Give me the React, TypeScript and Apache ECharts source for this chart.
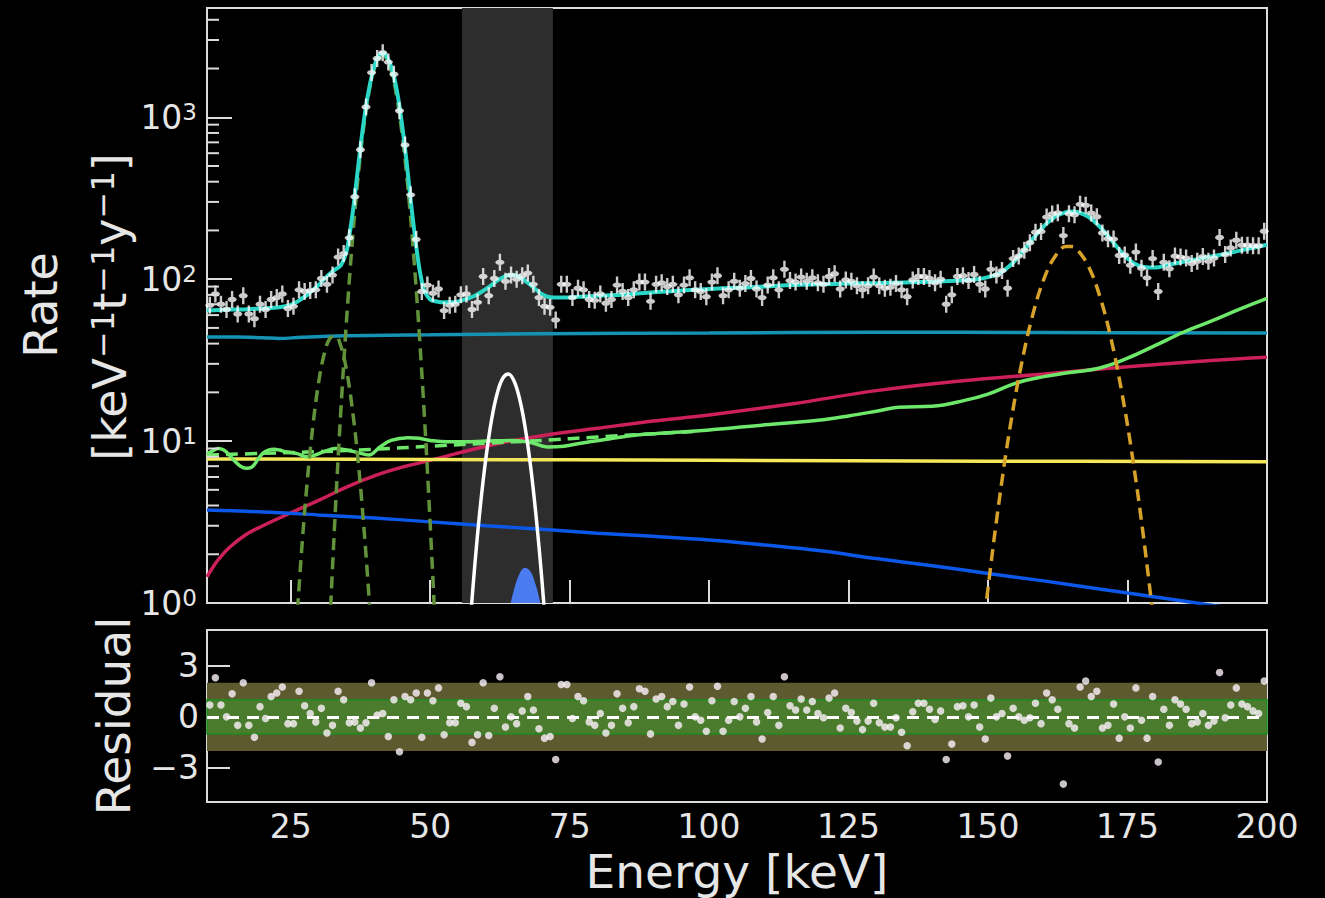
import React, { useEffect, useRef } from 'react';
import * as echarts from 'echarts';

const FONT = "'DejaVu Sans', Verdana, sans-serif";
const TXT = '#e6e6e6';
const FRAME = '#dcdcdc';

// energy bin centres (1 keV bins, 10-200 keV)
const binCentres = Array.from({ length: 190 }, (_, i) => 10.5 + i);

// measured rate per bin [keV^-1 t^-1 y^-1]
const rateData = [
  69, 81, 70, 65, 75, 61, 79, 61, 57, 70,
  65, 75, 77, 81, 66, 68, 86, 84, 85, 86,
  101, 93, 106, 137, 144, 180, 323, 631, 1158, 1887,
  2307, 2505, 2192, 1844, 1098, 675, 332, 176, 84, 92,
  82, 87, 64, 69, 70, 80, 81, 65, 72, 104,
  79, 101, 127, 97, 106, 100, 105, 109, 93, 77,
  68, 67, 56, 93, 93, 77, 88, 86, 75, 74,
  81, 71, 75, 92, 84, 77, 86, 96, 96, 73,
  93, 95, 90, 93, 80, 92, 102, 86, 84, 78,
  96, 105, 79, 86, 97, 88, 94, 101, 87, 77,
  92, 102, 86, 115, 98, 96, 103, 97, 102, 95,
  93, 104, 108, 87, 99, 97, 91, 86, 91, 103,
  91, 88, 89, 94, 86, 78, 99, 104, 104, 101,
  95, 100, 70, 80, 104, 105, 98, 107, 93, 87,
  115, 106, 113, 88, 134, 139, 151, 168, 195, 197,
  242, 253, 257, 186, 254, 250, 290, 286, 256, 243,
  193, 178, 177, 140, 141, 122, 147, 117, 102, 134,
  84, 127, 116, 139, 137, 135, 125, 129, 138, 129,
  135, 181, 142, 156, 174, 162, 162, 161, 161, 198,
];

// normalised residuals per bin
const residuals = [
  0.7, 2.3, 0.7, 0, 1.35, -0.5, 2.0, -0.5, -1.2, 0.6,
  -0.1, 1.2, 1.4, 1.75, -0.4, -0.4, 1.5, 0.65, 0.2, -0.3,
  0.5, -0.95, -0.5, 1.5, 1.0, -0.35, -0.3, -0.65, -0.35, 2.0,
  0.1, 0.2, -1.15, 1.0, -2.05, 1.2, 1.0, 1.4, -1.2, 1.4,
  0.95, 1.7, -1.05, -0.35, -0.35, 0.8, 0.6, -1.5, -1.05, 2.0,
  -1.1, 0.5, 2.35, -0.6, 0, -0.4, 0.35, 1.2, 0.4, -0.7,
  -1.25, -1.15, -2.5, 1.9, 1.9, -0.1, 1.2, 0.95, -0.3, -0.5,
  0.2, -0.95, -0.5, 1.35, 0.5, -0.35, 0.6, 1.65, 1.5, -1.0,
  1.05, 1.2, 0.6, 0.9, -0.5, 0.75, 1.75, 0, -0.2, -0.85,
  0.95, 1.8, -0.85, -0.2, 0.9, 0, 0.5, 1.2, -0.3, -1.3,
  0.25, 1.2, -0.5, 2.35, 0.65, 0.4, 1.05, 0.4, 0.9, 0.2,
  -0.05, 1.1, 1.4, -0.65, 0.5, 0.25, -0.25, -0.75, -0.25, 0.8,
  -0.35, -0.6, -0.6, -0.05, -0.9, -1.7, 0.3, 0.8, 0.8, 0.45,
  -0.15, 0.35, -2.5, -1.6, 0.6, 0.65, 0, 0.7, -0.6, -1.3,
  1.1, 0, 0.2, -2.3, 0.5, 0, -0.2, -0.05, 0.8, -0.4,
  1.4, 1.0, 0.45, -3.95, -0.4, -0.65, 1.75, 2.1, 1.2, 1.5,
  -0.65, -0.5, 0.75, -1.25, 0, -0.65, 1.7, -0.2, -1.25, 1.2,
  -2.65, 0.45, -0.5, 1.0, 0.75, 0.45, -0.4, -0.3, 0.2, -0.5,
  -0.25, 2.6, -0.05, 0.7, 1.7, 0.75, 0.6, 0.35, 0.2, 2.1,
];

// total fit (cyan)
const fitE = [10, 12, 14, 16, 18, 20, 22, 24, 25, 26, 27, 28, 29, 30, 31, 32, 33, 34, 35, 35.5, 36, 36.5, 37, 37.5, 38, 38.5, 39, 39.5, 40, 40.5, 41, 41.5, 42, 42.5, 43, 43.5, 44, 44.5, 45, 45.5, 46, 46.5, 47, 47.5, 48, 48.5, 49, 50, 51, 52, 54, 56, 58, 60, 61, 62, 63, 64, 65, 66, 67, 68, 69, 70, 71, 72, 74, 76, 80, 85, 90, 95, 100, 105, 110, 115, 120, 125, 130, 135, 140, 145, 148, 150, 152, 154, 156, 158, 160, 162, 164, 165, 166, 168, 170, 172, 174, 176, 178, 180, 182, 185, 188, 191, 194, 197, 200];
const fitRate = [64, 64.5, 65, 65, 65.5, 66, 66.5, 68, 69.5, 72, 76, 80, 86, 92, 100, 108, 115, 122, 148, 185, 240, 330, 465, 650, 890, 1170, 1470, 1780, 2070, 2300, 2445, 2490, 2430, 2270, 2060, 1790, 1480, 1170, 880, 640, 450, 310, 220, 160, 120, 97, 84, 75, 73, 72, 72, 74.5, 79, 87, 92, 98, 102.5, 105.5, 106, 103, 98, 92, 86, 81, 78, 77, 77, 77.5, 79, 80.5, 83, 85, 87, 88.5, 90, 92, 93, 94, 94.5, 95.5, 96.5, 98, 100, 103, 108.5, 122, 145, 177, 212, 243, 259, 262, 260, 243, 211, 176, 146, 126, 119, 118, 122, 128, 134, 140, 147, 155, 163];

// teal flat component
const tealE = [10, 15, 20, 23, 27, 35, 50, 70, 100, 130, 160, 200];
const tealRate = [44, 44, 43.5, 43, 43.8, 44.7, 45.3, 46, 46.5, 47, 46.8, 46.5];

// crimson rising component
const crimsonE = [10, 11, 12, 14, 17, 20, 25, 30, 35, 40, 45, 50, 60, 70, 80, 90, 100, 115, 130, 145, 160, 175, 190, 200];
const crimsonRate = [1.45, 1.65, 1.85, 2.2, 2.65, 3.0, 3.6, 4.3, 5.2, 6.1, 6.9, 7.6, 9.3, 10.8, 12.0, 13.3, 14.5, 17.0, 20.5, 23.5, 26.0, 28.8, 31.5, 33];

// yellow flat component
const yellowE = [10, 50, 100, 150, 200];
const yellowRate = [7.75, 7.7, 7.62, 7.52, 7.45];

// blue falling component
const blueE = [10, 20, 30, 40, 50, 60, 70, 80, 90, 100, 110, 120, 130, 140, 150, 160, 170, 180, 190, 200];
const blueRate = [3.75, 3.65, 3.5, 3.35, 3.17, 3.0, 2.85, 2.7, 2.58, 2.45, 2.28, 2.1, 1.88, 1.7, 1.52, 1.37, 1.22, 1.09, 0.97, 0.86];

// light-green component (solid)
const greenE = [10, 11, 12, 13, 14, 15, 16, 17, 18, 19, 20, 21, 22, 23, 24, 26, 28, 29, 31, 33, 35, 37, 39, 41, 43, 46, 48, 50, 53, 56, 60, 65, 68, 71, 74, 77, 82, 87, 92, 100, 110, 120, 125, 130, 134, 140, 146, 150, 155, 160, 164, 170, 175, 180, 185, 190, 195, 200];
const greenRate = [8.3, 8.7, 9.0, 8.8, 8.2, 7.5, 7.0, 6.8, 6.9, 7.6, 8.4, 8.8, 8.9, 8.8, 8.6, 8.4, 8.0, 8.1, 8.6, 9.0, 8.8, 8.5, 8.2, 9.2, 10.1, 10.5, 10.4, 10.1, 9.9, 9.9, 10.0, 10.1, 9.8, 9.2, 9.3, 9.7, 10.3, 10.9, 11.2, 11.7, 12.6, 13.5, 14.3, 15.3, 16.2, 16.4, 17.9, 19.5, 22.8, 25, 26.3, 28.3, 32.5, 39, 47, 55, 65, 76];

// light-green component (dashed)
const greenDashE = [10, 20, 30, 40, 50, 60, 70, 80, 90, 98];
const greenDashRate = [8.2, 8.4, 8.6, 8.9, 9.3, 9.7, 10.1, 10.6, 11.1, 11.5];

// line peaks
const peakAE = [26, 27, 28, 29, 30, 31, 32, 33, 34, 35, 36, 37, 38, 39, 40];
const peakARate = [0.69, 2.2, 5.8, 12.6, 22.9, 34.4, 43, 44.6, 38.5, 27.5, 16.3, 8.1, 3.3, 1.13, 0.32];
const peakBE = [32, 33, 34, 35, 36, 37, 38, 39, 40, 41, 41.5, 42, 43, 44, 45, 46, 47, 48, 49, 50, 51];
const peakBRate = [0.72, 3.7, 15.6, 55, 163, 400, 820, 1402, 1999, 2376, 2420, 2354, 1946, 1340, 769, 368, 147, 49, 13.6, 3.1, 0.61];
const peakCE = [149, 150, 152, 154, 156, 158, 160, 162, 164, 165, 166, 168, 170, 172, 174, 176, 178, 180];
const peakCRate = [0.62, 1.24, 4.3, 12.5, 30, 60, 100, 138, 159, 159, 152, 120, 79, 43.5, 19.8, 7.5, 2.35, 0.62];
const signalE = [57, 58, 59, 60, 61, 62, 63, 64, 65, 66, 67, 68, 69, 70, 71];
const signalRate = [0.63, 1.71, 3.98, 7.9, 13.5, 19.6, 24.4, 26, 23.7, 18.4, 12.3, 7.0, 3.4, 1.43, 0.51];
const blueFillE = [64.45, 65, 66, 67, 68, 69, 69.75];
const blueFillRate = [1.0, 1.2, 1.51, 1.65, 1.56, 1.27, 1.0];

// region of interest (keV)
const roi = [55.7, 72];

// axis ticks
const xTicks = [25, 50, 75, 100, 125, 150, 175];
const xLabels = [25, 50, 75, 100, 125, 150, 175, 200];
const minorLogTicks = [2, 3, 4, 5, 6, 7, 8, 9, 20, 30, 40, 50, 60, 70, 80, 90, 200, 300, 400, 500, 600, 700, 800, 900, 2000, 3000, 4000];
const residTicks = [-3, 3];
const residLabels = [-3, 0, 3];

const zip = (xs: number[], ys: number[]) => xs.map((x, i) => [x, ys[i]]);

const ERR_SYMBOL =
  'path://M4.2,0L5.8,0L5.8,18L4.2,18Z M2,8.2L8,8.2L8,9.8L2,9.8Z M7.8,9A2.8,2.8 0 1,1 2.2,9A2.8,2.8 0 1,1 7.8,9Z';

function lineSeries(name: string, xs: number[], ys: number[], color: string, width: number, dashed = false, z = 2): any {
  return {
    name,
    type: 'line',
    xAxisIndex: 0,
    yAxisIndex: 0,
    data: zip(xs, ys),
    showSymbol: false,
    symbol: 'none',
    smooth: 0.4,
    silent: true,
    z,
    lineStyle: { color, width, type: dashed ? [12, 7] : 'solid' },
  };
}

export default function App() {
  const ref = useRef<HTMLDivElement>(null);
  useEffect(() => {
    document.body.style.margin = '0';
    document.body.style.background = '#000';
    const chart = echarts.init(ref.current!, null, { renderer: 'svg' });
    const tickStyle = { color: FRAME, width: 2 };
    const option: any = {
      animation: false,
      backgroundColor: '#000000',
      grid: [
        { left: 207, top: 8, width: 1060, height: 595, show: true, borderColor: FRAME, borderWidth: 2, backgroundColor: 'transparent' },
        { left: 207, top: 630, width: 1060, height: 172, show: true, borderColor: FRAME, borderWidth: 2, backgroundColor: 'transparent' },
      ],
      xAxis: [
        {
          gridIndex: 0, type: 'value', min: 10, max: 200,
          axisLine: { show: false }, splitLine: { show: false },
          axisTick: { show: true, inside: true, length: 23, customValues: xTicks, lineStyle: tickStyle },
          axisLabel: { show: false },
        },
        {
          gridIndex: 1, type: 'value', min: 10, max: 200,
          axisLine: { show: false }, splitLine: { show: false },
          axisTick: { show: true, inside: true, length: 23, customValues: xTicks, lineStyle: tickStyle },
          axisLabel: { show: true, customValues: xLabels, color: TXT, fontSize: 33, lineHeight: 33, fontFamily: FONT, margin: 8 },
        },
      ],
      yAxis: [
        {
          gridIndex: 0, type: 'log', logBase: 10, min: 1, max: 4730,
          axisLine: { show: false }, splitLine: { show: false },
          axisTick: { show: true, inside: true, length: 25, lineStyle: tickStyle },
          axisLabel: {
            show: true, margin: 10, showMaxLabel: false,
            formatter: (v: number) => {
              const e = Math.log10(v);
              const r = Math.round(e);
              if (Math.abs(e - r) > 1e-6) return '';
              return `{b|10}{s|${r}}`;
            },
            rich: {
              b: { fontSize: 33, color: TXT, fontFamily: FONT, verticalAlign: 'middle' },
              s: { fontSize: 23, color: TXT, fontFamily: FONT, verticalAlign: 'top' },
            },
          },
        },
        {
          gridIndex: 1, type: 'value', min: -5, max: 5.1,
          axisLine: { show: false }, splitLine: { show: false },
          axisTick: { show: true, inside: true, length: 23, customValues: residTicks, lineStyle: tickStyle },
          axisLabel: {
            show: true, customValues: residLabels, color: TXT, fontSize: 33, fontFamily: FONT, margin: 8,
            formatter: (v: number) => (v < 0 ? '\u2212' + Math.abs(v) : String(v)),
          },
        },
      ],
      graphic: [
        { type: 'text', x: 41, y: 305, rotation: Math.PI / 2, silent: true,
          style: { text: 'Rate', fontSize: 46, fontFamily: FONT, fill: TXT, align: 'center', verticalAlign: 'middle' } },
        { type: 'text', x: 110, y: 307, rotation: Math.PI / 2, silent: true,
          style: {
            text: '{a|[keV}{s|\u22121}{a|t}{s|\u22121}{a|y}{s|\u22121}{a|]}',
            align: 'center', verticalAlign: 'middle',
            rich: {
              a: { fontSize: 46, fontFamily: FONT, fill: TXT, verticalAlign: 'middle' },
              s: { fontSize: 32, fontFamily: FONT, fill: TXT, verticalAlign: 'top' },
            },
          } },
        { type: 'text', x: 113, y: 716, rotation: Math.PI / 2, silent: true,
          style: { text: 'Residual', fontSize: 47, fontFamily: FONT, fill: TXT, align: 'center', verticalAlign: 'middle' } },
        { type: 'text', x: 737, y: 871, silent: true,
          style: { text: 'Energy [keV]', fontSize: 47, lineHeight: 47, fontFamily: FONT, fill: TXT, align: 'center', verticalAlign: 'middle' } },
      ],
      series: [
        {
          ...lineSeries('flat', tealE, tealRate, '#1693b4', 3.5),
          markArea: {
            silent: true,
            itemStyle: { color: '#2d2d2d' },
            data: [[{ xAxis: roi[0] }, { xAxis: roi[1] }]],
          },
        },
        {
          name: 'signal-fill', type: 'line', xAxisIndex: 0, yAxisIndex: 0,
          data: zip(blueFillE, blueFillRate), symbol: 'none', smooth: 0.4, silent: true,
          lineStyle: { width: 0, color: '#4a7cf0' },
          areaStyle: { color: '#4a7cf0', opacity: 1, origin: 1 },
        },
        lineSeries('crimson', crimsonE, crimsonRate, '#cc2058', 3.5),
        lineSeries('yellow', yellowE, yellowRate, '#f2e85a', 3.5),
        lineSeries('blue', blueE, blueRate, '#0b57e8', 3.5),
        lineSeries('green-dash', greenDashE, greenDashRate, '#6ee86a', 3.5, true),
        lineSeries('green', greenE, greenRate, '#6ee86a', 3.5),
        lineSeries('peakA', peakAE, peakARate, '#62923a', 3.5, true),
        lineSeries('peakB', peakBE, peakBRate, '#62923a', 3.5, true),
        lineSeries('peakC', peakCE, peakCRate, '#d6a22a', 3.5, true),
        lineSeries('signal', signalE, signalRate, '#ffffff', 3.5),
        lineSeries('fit', fitE, fitRate, '#2ad6c6', 4, false, 3),
        {
          name: 'data', type: 'scatter', xAxisIndex: 0, yAxisIndex: 0,
          data: zip(binCentres, rateData), symbol: ERR_SYMBOL, symbolSize: [9, 17],
          itemStyle: { color: '#ffffff' }, silent: true, z: 4,
        },
        {
          name: 'minor-ticks', type: 'custom', xAxisIndex: 0, yAxisIndex: 0, silent: true, z: 5,
          data: minorLogTicks.map((v) => [10, v]),
          renderItem: (params: any, api: any) => {
            const p = api.coord([api.value(0), api.value(1)]);
            return { type: 'line', shape: { x1: p[0], y1: p[1], x2: p[0] + 12, y2: p[1] }, style: { stroke: FRAME, lineWidth: 2 } };
          },
        },
        {
          name: 'residuals', type: 'scatter', xAxisIndex: 1, yAxisIndex: 1,
          data: zip(binCentres, residuals), symbol: 'circle', symbolSize: 7.5,
          itemStyle: { color: '#fbf3fb' }, silent: true, z: 4,
          markArea: {
            silent: true,
            data: [
              [{ yAxis: -2, itemStyle: { color: '#5c5a2e' } }, { yAxis: 2 }],
              [{ yAxis: -1, itemStyle: { color: '#4b7b2c', borderColor: '#1f8a1f', borderWidth: 1.5 } }, { yAxis: 1 }],
            ],
          },
          markLine: {
            silent: true, symbol: 'none', label: { show: false }, z: 3,
            lineStyle: { color: '#ffffff', type: [12, 8], width: 3 },
            data: [{ yAxis: 0 }],
          },
        },
      ],
    };
    chart.setOption(option);
    return () => chart.dispose();
  }, []);
  return <div ref={ref} style={{ width: 1325, height: 898, background: '#000' }} />;
}
